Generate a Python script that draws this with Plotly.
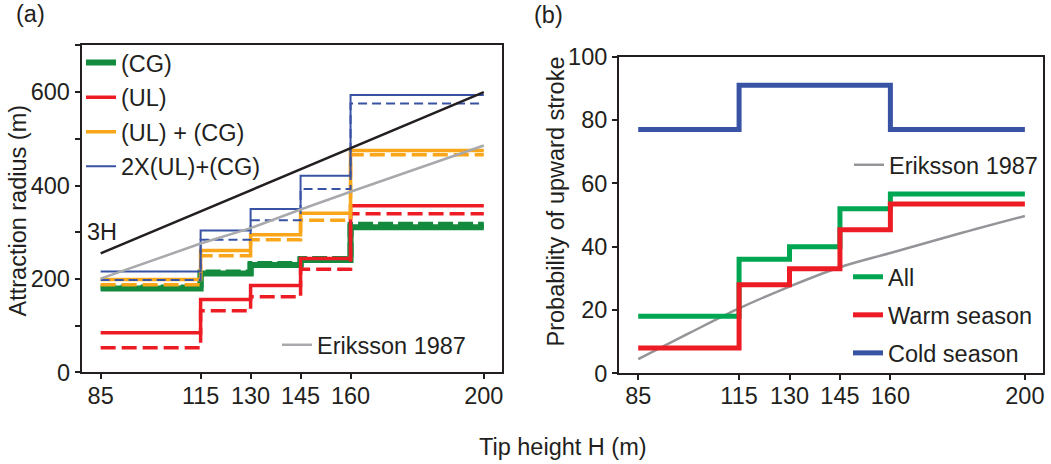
import plotly.graph_objects as go

# Tip heights where the step functions change
heights = [85, 115, 130, 145, 160, 200]

# (a) Attraction radius (m); last value repeated so the final step reaches H = 200
cg_solid = [180, 212, 230, 241, 311, 311]
cg_dash = [182, 214, 232, 243, 316, 316]
ul_solid = [85, 156, 186, 244, 357, 357]
ul_dash = [53, 132, 162, 221, 340, 340]
ulcg_solid = [199, 261, 295, 341, 475, 475]
ulcg_dash = [188, 250, 284, 326, 466, 466]
x2ulcg_solid = [216, 304, 350, 421, 594, 594]
x2ulcg_dash = [198, 284, 326, 393, 576, 576]
h3_x = [85, 200]
h3_y = [255, 600]
eriksson_a = [201, 276, 309, 349, 387, 486]

# (b) Probability of upward stroke (%)
p_all = [18, 36, 40, 52, 56.6, 56.6]
p_warm = [8, 28, 33, 45.3, 53.5, 53.5]
p_cold = [77, 91, 91, 91, 77, 77]
eriksson_b_x = [85, 100, 115, 130, 145, 160, 180, 200]
eriksson_b = [4.5, 12.6, 20.5, 27.4, 33.5, 38, 44, 49.7]

x_ticks = [85, 115, 130, 145, 160, 200]

W, H = 1051, 464
FONT = "Liberation Sans, Arial, Helvetica, sans-serif"
INK = "#231f20"
FS = 23.5

GREEN_A = "#138a3e"
GREEN_B = "#00a651"
RED = "#ed1c24"
ORANGE = "#faa61a"
BLUE = "#3953a4"
GRAY_A = "#a7a9ac"
GRAY_B = "#939598"

fig = go.Figure()


def step(x, y, color, width, dash="solid", name=None, legend=None, group=None, xa="x", ya="y"):
    fig.add_trace(go.Scatter(
        x=x, y=y, mode="lines", line=dict(shape="hv", color=color, width=width, dash=dash),
        name=name, showlegend=name is not None, legend=legend, legendgroup=group,
        xaxis=xa, yaxis=ya, hoverinfo="skip"))


# ---- panel (a)
step(heights, cg_dash, GREEN_A, 6, dash="15px,5px")
step(heights, cg_solid, GREEN_A, 6, name="(CG)", legend="legend", group="a1")
step(heights, ul_dash, RED, 3.5, dash="15px,6px")
step(heights, ul_solid, RED, 3.5, name="(UL)", legend="legend", group="a2")
step(heights, ulcg_dash, ORANGE, 3.5, dash="15px,6px")
step(heights, ulcg_solid, ORANGE, 3.5, name="(UL) + (CG)", legend="legend", group="a3")
step(heights, x2ulcg_dash, BLUE, 2, dash="9px,5px")
step(heights, x2ulcg_solid, BLUE, 2, name="2X(UL)+(CG)", legend="legend", group="a4")
fig.add_trace(go.Scatter(x=h3_x, y=h3_y, mode="lines", line=dict(color=INK, width=2.5),
                         showlegend=False, hoverinfo="skip"))
fig.add_trace(go.Scatter(x=heights, y=eriksson_a, mode="lines", line=dict(color=GRAY_A, width=2.5),
                         name="Eriksson 1987", legend="legend2", hoverinfo="skip"))

# ---- panel (b)
fig.add_trace(go.Scatter(x=eriksson_b_x, y=eriksson_b, mode="lines", line=dict(color=GRAY_B, width=2.5),
                         line_shape="spline", name="Eriksson 1987", legend="legend3",
                         xaxis="x2", yaxis="y2", hoverinfo="skip"))
step(heights, p_all, GREEN_B, 5, name="All", legend="legend4", group="b1", xa="x2", ya="y2")
step(heights, p_warm, RED, 5, name="Warm season", legend="legend4", group="b2", xa="x2", ya="y2")
step(heights, p_cold, BLUE, 5, name="Cold season", legend="legend4", group="b3", xa="x2", ya="y2")

axis_common = dict(
    showline=True, mirror=True, linecolor=INK, linewidth=2,
    ticks="outside", ticklen=5, tickwidth=1.5, tickcolor=INK,
    showgrid=False, zeroline=False, automargin=False,
    tickfont=dict(family=FONT, size=FS, color=INK),
)

leg_common = dict(font=dict(family=FONT, size=FS, color=INK), bgcolor="rgba(0,0,0,0)",
                  borderwidth=0, xanchor="left", yanchor="top", itemclick=False,
                  itemdoubleclick=False)

fig.update_layout(
    width=W, height=H,
    margin=dict(l=0, r=0, t=0, b=0, autoexpand=False),
    paper_bgcolor="white", plot_bgcolor="white",
    font=dict(family=FONT, size=FS, color=INK),
    xaxis=dict(domain=[0.0777, 0.4781], range=[79.3, 205.6], tickmode="array", tickvals=x_ticks,
               ticklabelstandoff=-4, **axis_common),
    yaxis=dict(domain=[0.1972, 0.9030], range=[0, 701], tickmode="linear", tick0=0, dtick=200,
               minor=dict(dtick=100, ticks="outside", ticklen=5, tickwidth=1.5, tickcolor=INK),
               **axis_common),
    xaxis2=dict(domain=[0.5890, 0.9921], range=[79.3, 205.3], tickmode="array", tickvals=x_ticks,
                anchor="y2", ticklabelstandoff=-4, **axis_common),
    yaxis2=dict(domain=[0.1955, 0.8778], range=[0, 100], tickmode="linear", tick0=0, dtick=20,
                anchor="x2", **axis_common),
    legend=dict(x=81 / W, y=1 - 40.8 / H, tracegroupgap=1, **leg_common),
    legend2=dict(x=277 / W, y=1 - 323 / H, **leg_common),
    legend3=dict(x=849 / W, y=1 - 143 / H, **leg_common),
    legend4=dict(x=848 / W, y=1 - 255 / H, tracegroupgap=4.5, **leg_common),
    showlegend=True,
)

ann = dict(font=dict(family=FONT, size=FS, color=INK), showarrow=False)
fig.add_annotation(text="(a)", xref="paper", yref="paper", x=14 / W, y=1 - 14 / H,
                   xanchor="left", yanchor="middle", **ann)
fig.add_annotation(text="(b)", xref="paper", yref="paper", x=532 / W, y=1 - 15 / H,
                   xanchor="left", yanchor="middle", **ann)
fig.add_annotation(text="3H", xref="x", yref="y", x=80.2, y=300,
                   xanchor="left", yanchor="middle", **ann)
fig.add_annotation(text="Attraction radius (m)", textangle=-90, xref="paper", yref="paper",
                   x=17 / W, y=1 - 210.5 / H, xanchor="center", yanchor="middle", **ann)
fig.add_annotation(text="Probability of upward stroke", textangle=-90, xref="paper", yref="paper",
                   x=556 / W, y=1 - 201.5 / H, xanchor="center", yanchor="middle", **ann)
fig.add_annotation(text="Tip height H (m)", xref="paper", yref="paper",
                   x=563 / W, y=1 - 447 / H, xanchor="center", yanchor="middle", **ann)

fig.write_html("out.html")
